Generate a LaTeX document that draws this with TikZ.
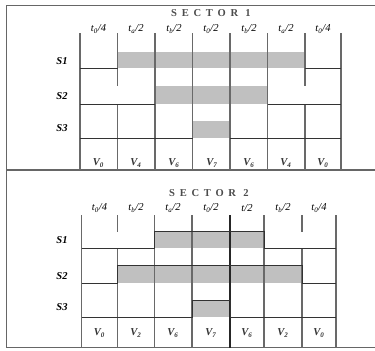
\documentclass[tikz,border=0pt]{standalone}
\usepackage{fontspec}
\setmainfont{Liberation Serif}
\usetikzlibrary{positioning}
\definecolor{pulsegray}{RGB}{192,192,192}
\definecolor{gridgray}{RGB}{105,105,105}
\newcommand{\tpart}[2]{t\textsubscript{#1}/#2}
\newcommand{\vvec}[1]{V\textsubscript{#1}}

\begin{document}
\begin{tikzpicture}[
	x=0.03cm, y=-0.03cm,
	% Line styles
	frame/.style={
		draw=black!60,
		line width=0.9pt
	},
	gridline/.style={
		draw=gridgray,
		line width=0.9pt
	},
	wave/.style={
		draw=black!80,
		line width=0.8pt
	},
	pulse/.style={
		fill=pulsegray
	},
	% Text styles
	title/.style={
		font=\small\bfseries\addfontfeatures{LetterSpace=45},
		color=black!70
	},
	tlabel/.style={
		font=\small\itshape,
		inner sep=1pt
	},
	rowlabel/.style={
		font=\small\bfseries\itshape
	},
	vlabel/.style={
		font=\small\bfseries\itshape,
		color=black!80
	}
	]
	
	\useasboundingbox (0,0) rectangle (375,350);
	
	% Outer frame and separator
	\draw[frame] (375,5.5) -- (6.5,5.5) -- (6.5,347.5) -- (375,347.5);
	\draw[frame] (6.5,170) -- (375,170);
	
	% ---------------- Sector 1 ----------------
	\node[title] (title1) at (211,13.5) {SECTOR 1};
	
	\node[tlabel] (t11) at (98.5,29) {\tpart{0}{4}};
	\node[tlabel] (t12) at (136,29) {\tpart{a}{2}};
	\node[tlabel] (t13) at (174,29) {\tpart{b}{2}};
	\node[tlabel] (t14) at (211,29) {\tpart{0}{2}};
	\node[tlabel] (t15) at (249,29) {\tpart{b}{2}};
	\node[tlabel] (t16) at (286,29) {\tpart{a}{2}};
	\node[tlabel] (t17) at (323,29) {\tpart{0}{4}};
	
	% Shaded on-states
	\fill[pulse] (117.5,52) rectangle (305,68);
	\fill[pulse] (155,86) rectangle (267.5,104);
	\fill[pulse] (192.5,121) rectangle (230,138);
	
	% Grid lines
	\draw[gridline] (80,33) -- (80,170);
	\draw[gridline] (117.5,33) -- (117.5,86);
	\draw[gridline] (117.5,104) -- (117.5,170);
	\draw[gridline] (155,33) -- (155,170);
	\draw[gridline] (192.5,33) -- (192.5,170);
	\draw[gridline] (230,33) -- (230,170);
	\draw[gridline] (267.5,33) -- (267.5,170);
	\draw[gridline] (305,33) -- (305,86);
	\draw[gridline] (305,104) -- (305,170);
	\draw[gridline] (341,33) -- (341,170);
	
	% Off-state levels
	\draw[wave] (80,68) -- (117.5,68);
	\draw[wave] (305,68) -- (341,68);
	\draw[wave] (80,104) -- (155,104);
	\draw[wave] (267.5,104) -- (341,104);
	\draw[wave] (80,138) -- (192.5,138);
	\draw[wave] (230,138) -- (341,138);
	
	\node[rowlabel] (s11) at (62,61) {S1};
	\node[rowlabel] (s12) at (62,96.5) {S2};
	\node[rowlabel] (s13) at (62,128.5) {S3};
	
	\node[vlabel] (v11) at (98.5,163) {\vvec{0}};
	\node[vlabel] (v12) at (136,163) {\vvec{4}};
	\node[vlabel] (v13) at (174,163) {\vvec{6}};
	\node[vlabel] (v14) at (212,163) {\vvec{7}};
	\node[vlabel] (v15) at (249,163) {\vvec{6}};
	\node[vlabel] (v16) at (286,163) {\vvec{4}};
	\node[vlabel] (v17) at (323,163) {\vvec{0}};
	
	% ---------------- Sector 2 ----------------
	\node[title] (title2) at (209,193) {SECTOR 2};
	
	\node[tlabel] (t21) at (99.5,208) {\tpart{0}{4}};
	\node[tlabel] (t22) at (136,208) {\tpart{b}{2}};
	\node[tlabel] (t23) at (173,208) {\tpart{a}{2}};
	\node[tlabel] (t24) at (211,208) {\tpart{0}{2}};
	\node[tlabel] (t25) at (247,208) {\textit{t/2}};
	\node[tlabel] (t26) at (283,208) {\tpart{b}{2}};
	\node[tlabel] (t27) at (319,208) {\tpart{0}{4}};
	
	% Shaded on-states
	\fill[pulse] (154.5,231) rectangle (264,248);
	\fill[pulse] (117.5,265) rectangle (302,283);
	\fill[pulse] (192,300) rectangle (230,317);
	
	% Grid lines
	\draw[gridline] (81.5,215) -- (81.5,347.5);
	\draw[gridline] (117.5,215) -- (117.5,232);
	\draw[gridline] (117.5,248) -- (117.5,347.5);
	\draw[gridline] (154.5,215) -- (154.5,347.5);
	\draw[gridline] (192,215) -- (192,347.5);
	\draw[gridline, draw=black!85] (230,215) -- (230,347.5);
	\draw[gridline] (264,215) -- (264,347.5);
	\draw[gridline] (302,215) -- (302,232);
	\draw[gridline] (302,248) -- (302,347.5);
	\draw[gridline] (336,215) -- (336,347.5);
	
	% Levels
	\draw[wave] (81.5,248) -- (154.5,248) -- (154.5,231) -- (264,231) -- (264,248) -- (336,248);
	\draw[wave] (81.5,283) -- (117.5,283) -- (117.5,265) -- (302,265) -- (302,283) -- (336,283);
	\draw[wave] (81.5,317) -- (192,317) -- (192,300) -- (230,300) -- (230,317) -- (336,317);
	
	\node[rowlabel] (s21) at (62,240.5) {S1};
	\node[rowlabel] (s22) at (62,276) {S2};
	\node[rowlabel] (s23) at (62,307.5) {S3};
	
	\node[vlabel] (v21) at (99.5,333) {\vvec{0}};
	\node[vlabel] (v22) at (136,333) {\vvec{2}};
	\node[vlabel] (v23) at (173,333) {\vvec{6}};
	\node[vlabel] (v24) at (211,333) {\vvec{7}};
	\node[vlabel] (v25) at (247,333) {\vvec{6}};
	\node[vlabel] (v26) at (283,333) {\vvec{2}};
	\node[vlabel] (v27) at (319,333) {\vvec{0}};
	
\end{tikzpicture}
\end{document}
